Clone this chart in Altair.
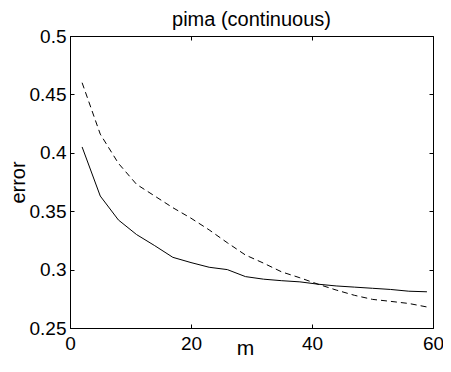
import altair as alt
import pandas as pd

# ---- data ----
m_values = [2, 5, 8, 11, 14, 17, 20, 23, 26, 29, 32, 35, 38, 41, 44, 47, 50, 53, 56, 59]
solid_error = [0.405, 0.363, 0.3425, 0.330, 0.3205, 0.3105, 0.306, 0.302, 0.300, 0.294,
               0.2918, 0.2905, 0.2895, 0.2875, 0.286, 0.285, 0.284, 0.283, 0.2815, 0.281]
dashed_error = [0.460, 0.416, 0.391, 0.373, 0.363, 0.353, 0.344, 0.334, 0.323, 0.3125,
                0.3055, 0.298, 0.293, 0.2875, 0.2825, 0.278, 0.2745, 0.2728, 0.271, 0.268]
x_ticks = [0, 20, 40, 60]
y_ticks = [0.25, 0.3, 0.35, 0.4, 0.45, 0.5]
x_domain = [0, 60]
y_domain = [0.25, 0.5]
title_text = "pima (continuous)"
x_title = "m"
y_title = "error"

df_solid = pd.DataFrame({"m": m_values, "error": solid_error})
df_dashed = pd.DataFrame({"m": m_values, "error": dashed_error})

FONT = "Liberation Sans"
W, H = 363, 292

xs = alt.Scale(domain=x_domain, nice=False, zero=False)
ys = alt.Scale(domain=y_domain, nice=False, zero=False)

main_x = alt.Axis(orient="bottom", values=x_ticks, format="d", ticks=False, tickSize=0,
                  labelPadding=6, labelFlush=False, labelOverlap=False, labelFontSize=19,
                  labelFont=FONT, labelColor="black", labelBaseline="top",
                  domain=True, domainColor="black", domainWidth=1, grid=False,
                  title=x_title, titleFont=FONT, titleFontSize=21, titleFontWeight="normal",
                  titleColor="black", titleX=175, titleY=26, titleBaseline="alphabetic",
                  titleAlign="center")
main_y = alt.Axis(orient="left", values=y_ticks, format="~g", ticks=False, tickSize=0,
                  labelPadding=4, labelFlush=False, labelOverlap=False, labelFontSize=19,
                  labelFont=FONT, labelColor="black", labelBaseline="middle",
                  domain=True, domainColor="black", domainWidth=1, grid=False,
                  title=y_title, titleFont=FONT, titleFontSize=20, titleFontWeight="normal",
                  titleColor="black", titleAngle=-90, titleX=-46, titleY=H / 2,
                  titleBaseline="alphabetic", titleAlign="center")

def tick_axis(orient, values, offset):
    return alt.Axis(orient=orient, offset=offset, values=values, labels=False, domain=False,
                    ticks=True, tickSize=4, tickColor="black", tickWidth=1, grid=False,
                    title=None)

layer_a = alt.Chart(df_solid).mark_line(color="black", strokeWidth=1).encode(
    x=alt.X("m:Q", scale=xs, axis=main_x),
    y=alt.Y("error:Q", scale=ys, axis=main_y),
)
layer_b = alt.Chart(df_dashed).mark_line(color="black", strokeWidth=1, strokeDash=[6, 4]).encode(
    x=alt.X("m:Q", scale=xs, axis=tick_axis("top", x_ticks, -H)),
    y=alt.Y("error:Q", scale=ys, axis=tick_axis("right", y_ticks, -W)),
)
layer_c = alt.Chart(df_dashed).mark_line(opacity=0).encode(
    x=alt.X("m:Q", scale=xs, axis=tick_axis("bottom", x_ticks, -H)),
    y=alt.Y("error:Q", scale=ys, axis=tick_axis("left", y_ticks, -W)),
)

chart = alt.layer(layer_a, layer_b, layer_c).resolve_axis(
    x="independent", y="independent"
).properties(
    width=W, height=H,
    title=alt.TitleParams(text=title_text, font=FONT, fontSize=20, fontWeight="normal",
                          color="black", anchor="middle", baseline="alphabetic",
                          offset=0, dy=19),
    padding={"left": 62, "top": 28, "right": 10, "bottom": 30},
    autosize=alt.AutoSizeParams(type="none"),
).configure_view(stroke="black", strokeWidth=1)

chart.save("out.html", embed_options={"renderer": "svg", "actions": False})
